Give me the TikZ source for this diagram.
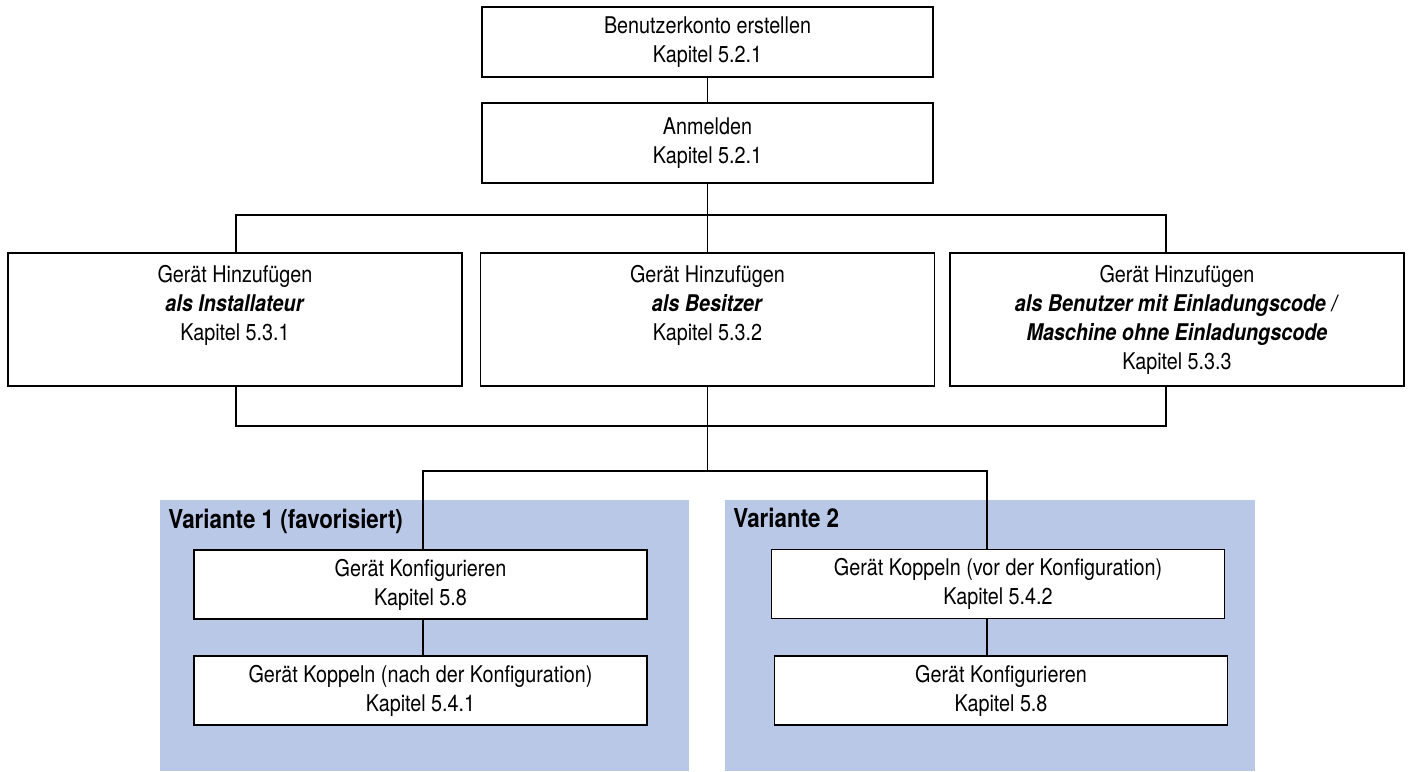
\documentclass[tikz,border=0pt]{standalone}
\usepackage{fontspec}
\setmainfont{TeX Gyre Heros}[FakeStretch=0.86]
\definecolor{variantblue}{RGB}{185,200,230}
% Text der drei Hinzufuegen-Kaesten oben buendig
\newcommand{\addtext}[1]{\parbox[c][54.5pt][t]{227pt}{\centering #1}}

\begin{document}
\begin{tikzpicture}[x=0.5pt,y=-0.5pt,
    box/.style={draw,fill=white,line width=0.9pt,inner sep=0pt,align=center,
      minimum width=225.5pt,font=\fontsize{11.5}{14.5}\selectfont},
    addbox/.style={draw,fill=white,line width=0.9pt,inner xsep=0pt,inner ysep=6pt,
      font=\fontsize{11.5}{14.5}\selectfont},
    varbox/.style={box,minimum width=226.5pt,minimum height=34.5pt},
    variant/.style={fill=variantblue},
    varlabel/.style={anchor=base west,inner sep=0pt,font=\fontsize{13}{15}\selectfont\bfseries},
    link/.style={line width=0.9pt}]
\useasboundingbox (0,0) rectangle (1408,771);
%
% ============ Varianten-Flaechen ============
\fill[variant] (160,500) rectangle (689,771);
\fill[variant] (725,500) rectangle (1255,771);
\node[varlabel] (v1label) at (168,528) {Variante 1 (favorisiert)};
\node[varlabel] (v2label) at (733,527) {Variante 2};
%
% ============ Konto und Anmeldung ============
\node[box,minimum height=35pt] (konto) at (707.5,42) {Benutzerkonto erstellen\\Kapitel 5.2.1};
\node[box,minimum height=40pt] (anmelden) at (707.5,143) {Anmelden\\Kapitel 5.2.1};
%
% ============ Geraet hinzufuegen ============
\node[addbox] (inst) at (235,319.5)
  {\addtext{Gerät Hinzufügen\\\textbf{\textit{als Installateur}}\\Kapitel 5.3.1}};
\node[addbox] (besitzer) at (707.5,319.5)
  {\addtext{Gerät Hinzufügen\\\textbf{\textit{als Besitzer}}\\Kapitel 5.3.2}};
\node[addbox] (benutzer) at (1177,319.5)
  {\addtext{Gerät Hinzufügen\\\textbf{\textit{als Benutzer mit Einladungscode /}}\\
  \textbf{\textit{Maschine ohne Einladungscode}}\\Kapitel 5.3.3}};
%
% ============ Variante 1 / Variante 2 ============
\node[varbox] (kfg1) at (420.5,584.5) {Gerät Konfigurieren\\Kapitel 5.8};
\node[varbox] (kop1) at (420.5,690.5) {Gerät Koppeln (nach der Konfiguration)\\Kapitel 5.4.1};
\node[varbox] (kop2) at (998,584) {Gerät Koppeln (vor der Konfiguration)\\Kapitel 5.4.2};
\node[varbox] (kfg2) at (1001,690.5) {Gerät Konfigurieren\\Kapitel 5.8};
%
% Sammelschienen
\coordinate (busT) at (707,215);
\coordinate (busB) at (707,426);
\coordinate (busV) at (707,471);
\coordinate (colL) at (236,0);
\coordinate (colR) at (1166,0);
\coordinate (colV1) at (423,0);
\coordinate (colV2) at (987,0);
%
% Verbindungen
\draw[link] (konto) -- (anmelden);
\draw[link] (anmelden) -- (anmelden.south |- busT);
\draw[link] (inst.north -| colL) |- (busT) -| (benutzer.north -| colR);
\draw[link] (besitzer.north) -- (besitzer.north |- busT);
\draw[link] (inst.south -| colL) |- (busB) -| (benutzer.south -| colR);
\draw[link] (besitzer.south) -- (besitzer.south |- busV);
\draw[link] (kfg1.north -| colV1) |- (busV) -| (kop2.north -| colV2);
\draw[link] (kfg1.south -| colV1) -- (kop1.north -| colV1);
\draw[link] (kop2.south -| colV2) -- (kfg2.north -| colV2);
%
\end{tikzpicture}
\end{document}
